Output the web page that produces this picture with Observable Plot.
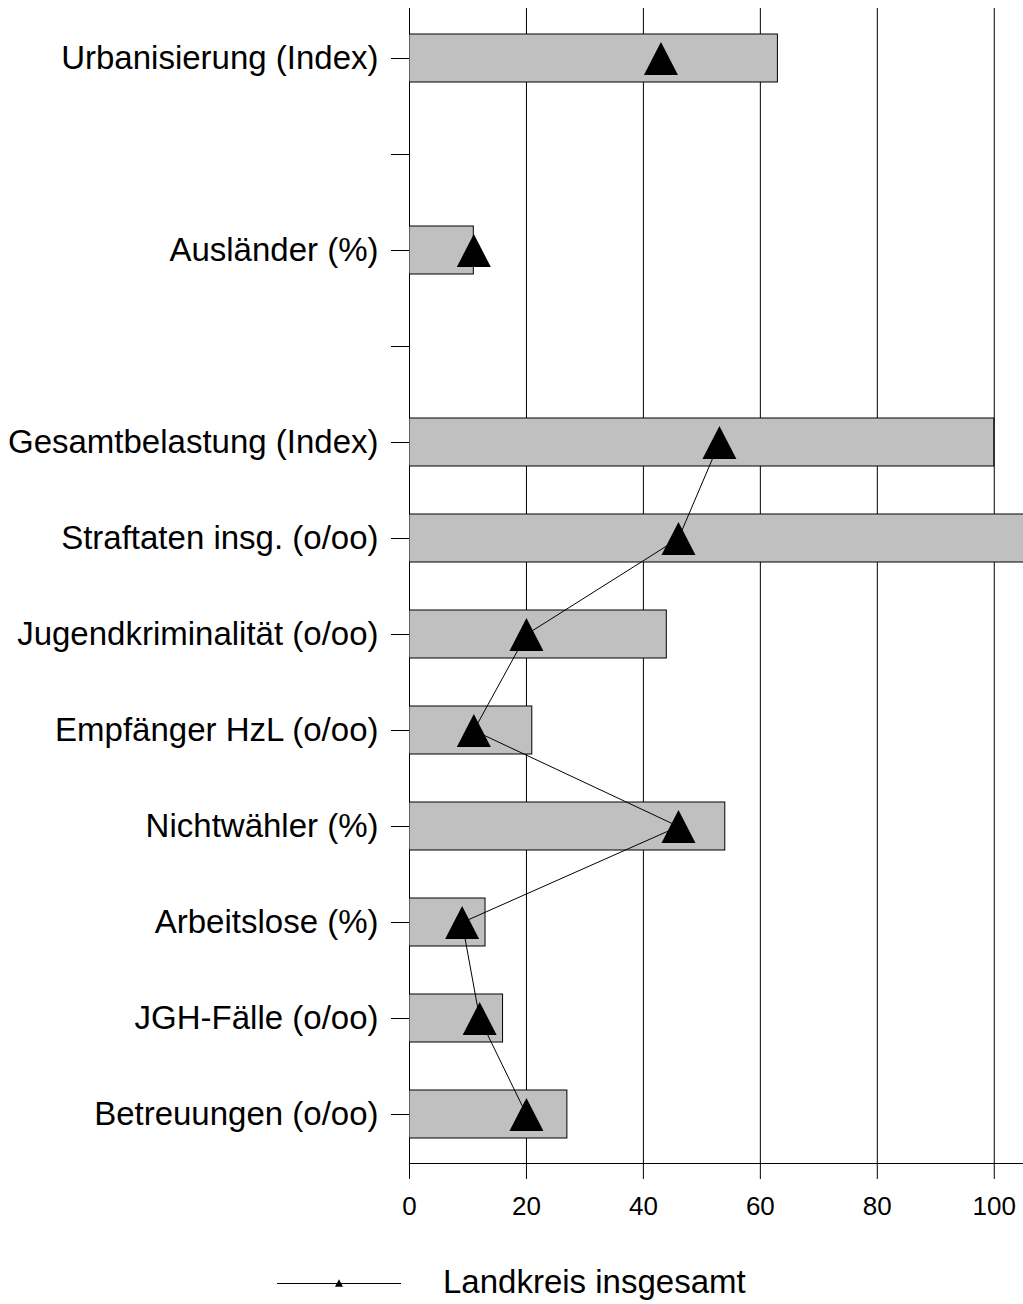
<!DOCTYPE html>
<html><head><meta charset="utf-8">
<script src="https://cdn.jsdelivr.net/npm/d3@7"></script>
<script src="https://cdn.jsdelivr.net/npm/@observablehq/plot@0.6"></script>
<style>
body{margin:0;background:#fff;font-family:"Liberation Sans",Arial,sans-serif;overflow:hidden}
#chart svg{display:block;overflow:hidden}
#legend{height:64px;width:1023px}
#legend svg{display:block}
</style></head><body>
<div id="chart"></div>
<div id="legend"></div>
<script>
// --- data ---
const categories = ["Urbanisierung (Index)", "gap1", "Ausländer (%)", "gap2", "Gesamtbelastung (Index)", "Straftaten insg. (o/oo)", "Jugendkriminalität (o/oo)", "Empfänger HzL (o/oo)", "Nichtwähler (%)", "Arbeitslose (%)", "JGH-Fälle (o/oo)", "Betreuungen (o/oo)"];
const barValues = [63, null, 11, null, 100, 110, 44, 21, 54, 13, 16, 27];
const landkreisValues = [43, null, 11, null, 53, 46, 20, 11, 46, 9, 12, 20];
const connected = [false, false, false, false, true, true, true, true, true, true, true, true];
const xTicks = [0, 20, 40, 60, 80, 100];
const legendLabel = "Landkreis insgesamt";

const barRows = categories.map((c, i) => ({category: c, value: barValues[i]})).filter(d => d.value != null);
const triRows = categories.map((c, i) => ({category: c, value: landkreisValues[i]})).filter(d => d.value != null);
const lineRows = triRows.filter(d => connected[categories.indexOf(d.category)]);

const triangle = {
  draw(context, size) {
    const r = Math.sqrt(size / Math.PI);
    const h = r * 0.97;
    context.moveTo(0, -h);
    context.lineTo(r, h);
    context.lineTo(-r, h);
    context.closePath();
  }
};

const bottomLine = (index, scales, values, dim) => {
  const y = dim.height - dim.marginBottom;
  const g = d3.create("svg:line")
    .attr("x1", dim.marginLeft).attr("x2", dim.width - dim.marginRight)
    .attr("y1", y + 0.5).attr("y2", y + 0.5)
    .attr("stroke", "black");
  return g.node();
};

const chart = Plot.plot({
  width: 1023, height: 1240,
  marginLeft: 409, marginRight: 0, marginTop: 8, marginBottom: 77,
  style: {fontFamily: "'Liberation Sans', Arial, sans-serif", background: "white", color: "black"},
  x: {domain: [0, 105]},
  y: {domain: categories, paddingInner: 0.5, paddingOuter: 0.25},
  marks: [
    Plot.gridX(xTicks, {stroke: "black", strokeOpacity: 1, strokeWidth: 1}),
    Plot.barX(barRows, {x: "value", y: "category", fill: "#c0c0c0", stroke: "black", strokeWidth: 1, clip: true}),
    Plot.line(lineRows, {x: "value", y: "category", stroke: "black", strokeWidth: 1}),
    Plot.dot(triRows, {x: "value", y: "category", symbol: triangle, r: 17, fill: "black", stroke: "none"}),
    bottomLine,
    Plot.axisX({ticks: xTicks, tickSize: 16, tickPadding: 17, fontSize: 26, label: null}),
    Plot.axisY({tickSize: 18, tickPadding: 13, fontSize: 33, label: null, tickFormat: d => d.startsWith("gap") ? "" : d})
  ]
});
document.getElementById("chart").append(chart);

const leg = d3.select("#legend").append("svg").attr("width", 1023).attr("height", 64);
leg.append("line").attr("x1", 277).attr("x2", 401).attr("y1", 43.5).attr("y2", 43.5).attr("stroke", "black");
leg.append("path").attr("d", d3.symbol(triangle, 50)()).attr("transform", "translate(339,43)").attr("fill", "black");
leg.append("text").attr("x", 443).attr("y", 53).attr("font-size", 33).attr("font-family", "'Liberation Sans', Arial, sans-serif").text(legendLabel);
</script>
</body></html>
